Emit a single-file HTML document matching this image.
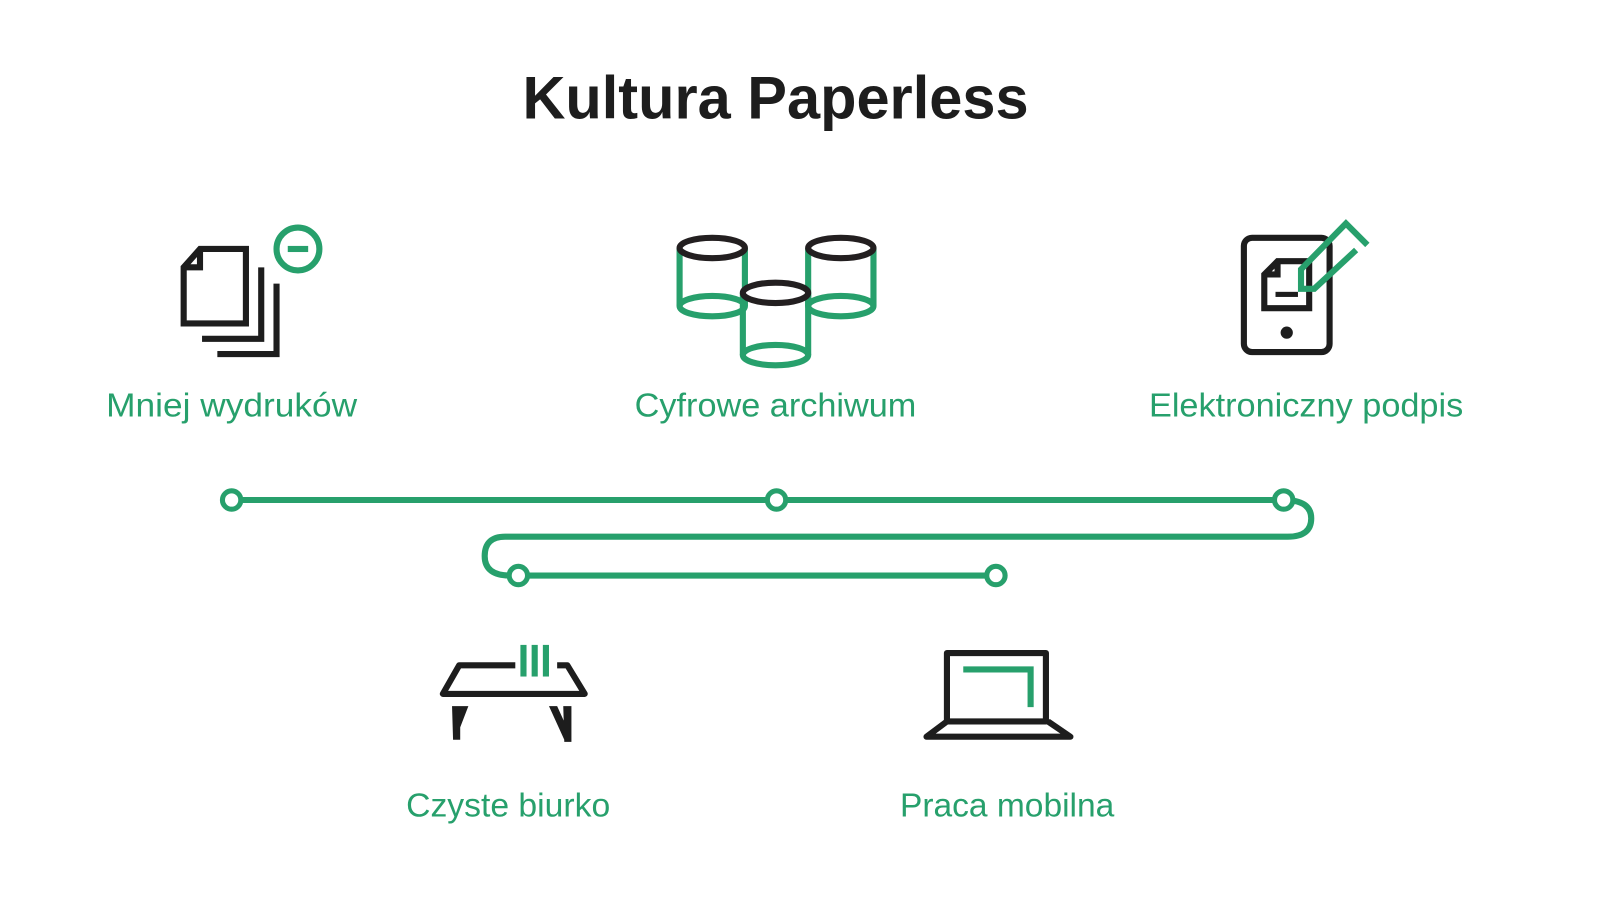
<!DOCTYPE html>
<html><head><meta charset="utf-8"><style>
html,body{margin:0;padding:0;background:#fff;width:1600px;height:900px;overflow:hidden}
svg{display:block}
</style></head><body>
<svg width="1600" height="900" viewBox="0 0 1568 882" xmlns="http://www.w3.org/2000/svg">
<g font-family="Liberation Sans, sans-serif" text-anchor="middle">
<text x="760" y="116" font-size="59" font-weight="bold" fill="#1d1d1d" textLength="496" lengthAdjust="spacingAndGlyphs">Kultura Paperless</text>
<g fill="#27a06c" font-size="33">
<text x="227" y="408" textLength="246" lengthAdjust="spacingAndGlyphs">Mniej wydruków</text>
<text x="760" y="408" textLength="276" lengthAdjust="spacingAndGlyphs">Cyfrowe archiwum</text>
<text x="1280" y="408" textLength="308" lengthAdjust="spacingAndGlyphs">Elektroniczny podpis</text>
<text x="498" y="800" textLength="200" lengthAdjust="spacingAndGlyphs">Czyste biurko</text>
<text x="987" y="800" textLength="210" lengthAdjust="spacingAndGlyphs">Praca mobilna</text>
</g></g>
<g fill="none" stroke="#27a06c" stroke-width="6">
<path d="M227 490 H1258 Q1285 490 1285 508 Q1285 526 1262 526 H495 Q475 526 475 545 Q475 564 500 564 H976"/>
</g>
<g fill="#fff" stroke="#27a06c" stroke-width="5">
<circle cx="227" cy="490" r="9"/><circle cx="761" cy="490" r="9"/><circle cx="1258" cy="490" r="9"/>
<circle cx="508" cy="564" r="9"/><circle cx="976" cy="564" r="9"/>
</g>
<g fill="none" stroke="#1d1d1d" stroke-width="6">
<path d="M196 244 H241 V317 H180 V262 Z M196 244 V262 H180"/>
<path d="M256 262 V332 H198"/>
<path d="M271 278 V347 H213"/>
</g>
<circle cx="292" cy="244" r="21" fill="none" stroke="#27a06c" stroke-width="6"/>
<rect x="282" y="241" width="20" height="6" fill="#27a06c"/>
<g fill="none" stroke="#27a06c" stroke-width="6">
<path d="M666 243 V300 M730 243 V300"/><ellipse cx="698" cy="300" rx="32" ry="10"/>
<path d="M792 243 V300 M856 243 V300"/><ellipse cx="824" cy="300" rx="32" ry="10"/>
<path d="M728 287 V348 M792 287 V348"/><ellipse cx="760" cy="348" rx="32" ry="10"/>
</g>
<g fill="#fff" stroke="#231f20" stroke-width="6">
<ellipse cx="698" cy="243" rx="32" ry="10"/>
<ellipse cx="824" cy="243" rx="32" ry="10"/>
<ellipse cx="760" cy="287" rx="32" ry="10"/>
</g>
<g fill="none" stroke="#1d1d1d" stroke-width="6">
<rect x="1219" y="233" width="84" height="112" rx="8"/>
<path d="M1252 256 H1283 V302 H1239 V269 Z M1252 256 V269 H1239"/>
</g>
<rect x="1250" y="286" width="22" height="5" fill="#1d1d1d"/>
<circle cx="1261" cy="326" r="6" fill="#1d1d1d"/>
<path d="M1329 245 L1288 283 L1275 283 L1275 264 L1319 219 L1340 240" fill="none" stroke="#27a06c" stroke-width="6"/>
<g fill="none" stroke="#1d1d1d" stroke-width="6" stroke-linejoin="round">
<path d="M505 652 H450 L434 680 H573 L556 652 H546"/>
</g>
<path d="M443 692 H451 V725 H444 Z M451 692 H459 L449 718 Z" fill="#1d1d1d"/>
<path d="M552 692 H560 V727 H553 Z M538 692 H546 L556 714 L553 725 Z" fill="#1d1d1d"/>
<g fill="#27a06c"><rect x="510" y="632" width="6" height="31"/><rect x="521" y="632" width="6" height="31"/><rect x="532" y="632" width="6" height="31"/></g>
<g fill="none" stroke="#1d1d1d" stroke-width="6" stroke-linejoin="round">
<rect x="928" y="640" width="97" height="67"/>
<path d="M928 707 L908 722 H1049 L1027 707"/>
</g>
<path d="M944 656 H1010 V693" fill="none" stroke="#27a06c" stroke-width="6"/>
</svg>
</body></html>
